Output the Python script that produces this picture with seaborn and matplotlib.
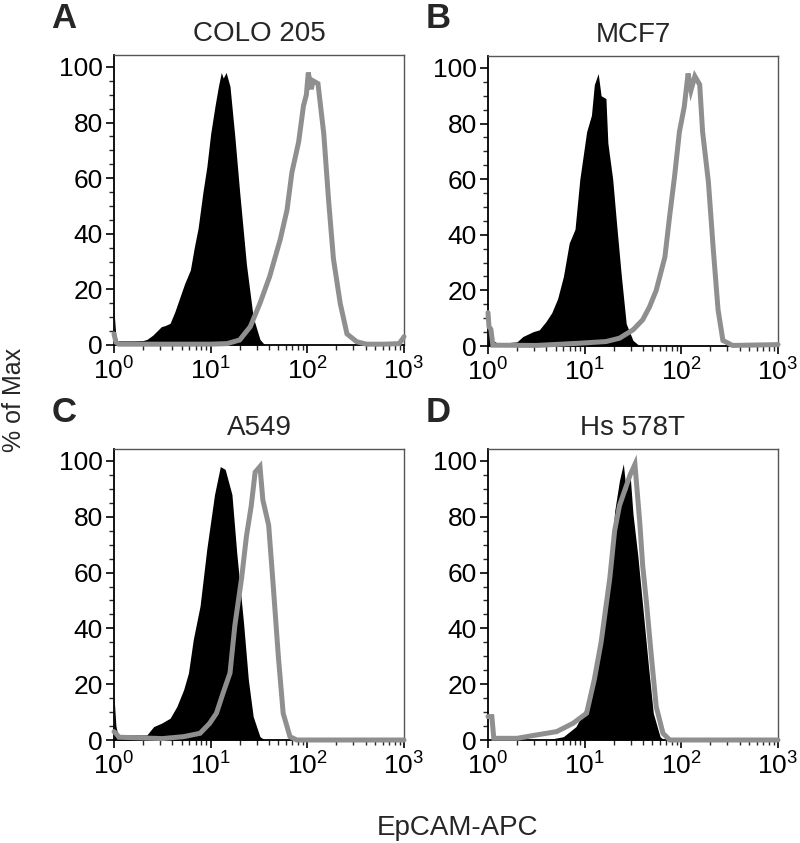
import numpy as np
import pandas as pd
import matplotlib
matplotlib.use("Agg")
import matplotlib.pyplot as plt
import seaborn as sns
from matplotlib.ticker import LogLocator, MultipleLocator

# ---------------- data (log10 intensity positions, % of max) ----------------
panel_letters = ["A", "B", "C", "D"]
cell_lines = ["COLO 205", "MCF7", "A549", "Hs 578T"]

a_iso_log = [0.0, 0.005, 0.02, 0.04, 0.1, 0.2, 0.3, 0.34, 0.40, 0.49, 0.53, 0.58, 0.63, 0.68, 0.73, 0.79,
             0.83, 0.87, 0.92, 0.96, 1.0, 1.045, 1.08, 1.11, 1.13, 1.16, 1.2, 1.25, 1.30, 1.37, 1.44, 1.51, 1.56]
a_iso_pct = [15, 10, 3, 1.5, 1.5, 1.5, 1.6, 2.0, 3.5, 6.6, 7.0, 7.8, 12, 17, 22, 27,
             35, 42, 55, 64, 76, 86, 93, 98, 96, 98, 93, 75, 55, 29, 10, 2, 0]
a_ep_log = [0.0, 0.02, 0.05, 0.5, 1.0, 1.17, 1.3, 1.41, 1.51, 1.61, 1.72, 1.79, 1.84, 1.91, 1.96, 1.99,
            2.01, 2.04, 2.06, 2.11, 2.17, 2.22, 2.27, 2.34, 2.41, 2.51, 2.61, 2.8, 2.95, 2.99, 3.0]
a_ep_pct = [4, 1, 0.3, 0.3, 0.3, 0.5, 1.8, 6.6, 15, 24.6, 38, 48.6, 62, 73, 86, 90,
            98, 92, 95, 94, 76, 52, 31, 15, 4, 1.2, 0.3, 0.3, 0.5, 2.4, 3]

b_iso_log = [0.0, 0.02, 0.05, 0.09, 0.2, 0.3, 0.36, 0.47, 0.53, 0.60, 0.66, 0.72, 0.78, 0.84, 0.90, 0.95,
             1.02, 1.07, 1.10, 1.14, 1.17, 1.22, 1.24, 1.29, 1.33, 1.38, 1.43, 1.5, 1.57]
b_iso_pct = [13, 7, 2, 1.2, 1.2, 1.5, 3.4, 5.2, 5.8, 8.8, 12, 17, 25, 37, 42, 60,
             77, 83, 94, 98, 90, 89, 73, 60, 44, 25, 8, 2, 0]
b_ep_log = [0.0, 0.01, 0.03, 0.05, 0.5, 0.95, 1.22, 1.36, 1.5, 1.60, 1.67, 1.74, 1.83, 1.88, 1.93, 1.98,
            2.03, 2.07, 2.10, 2.14, 2.19, 2.22, 2.28, 2.33, 2.38, 2.43, 2.53, 3.0]
b_ep_pct = [12, 7, 6, 0.3, 0.2, 1.0, 1.6, 2.8, 5.8, 9.4, 14, 20, 32, 47, 61, 77,
            86, 98, 92, 97, 94, 77, 59, 35, 13, 2, 0.2, 0.5]

c_iso_log = [0.0, 0.02, 0.04, 0.1, 0.34, 0.41, 0.49, 0.58, 0.65, 0.72, 0.77, 0.82, 0.89, 0.96, 1.04, 1.10,
             1.15, 1.22, 1.27, 1.34, 1.39, 1.44, 1.51, 1.56]
c_iso_pct = [15.6, 5, 1.8, 1.8, 1.8, 4.8, 6, 7.8, 12, 18, 24, 36, 48, 68.5, 88, 98,
             97, 88, 67, 42, 21.6, 8.4, 1.2, 0]
c_ep_log = [0.0, 0.02, 0.05, 0.5, 0.72, 0.89, 0.99, 1.06, 1.13, 1.2, 1.25, 1.32, 1.37, 1.42, 1.46, 1.51,
            1.54, 1.6, 1.65, 1.70, 1.75, 1.82, 1.89, 3.0]
c_ep_pct = [3, 2.4, 1, 0.5, 1.2, 2.4, 6, 9.6, 17, 24, 41, 58, 73, 84, 96, 98,
            86, 77, 54, 30, 9.6, 1.2, 0, 0]

d_iso_log = [0.0, 0.6, 0.78, 0.91, 1.02, 1.10, 1.19, 1.26, 1.31, 1.36, 1.40, 1.43, 1.47, 1.50, 1.55, 1.60,
             1.66, 1.71, 1.78, 1.82]
d_iso_pct = [0, 0, 1.2, 4.8, 12, 24, 38.5, 60, 82, 93, 99, 89, 95, 81, 66, 48,
             26.5, 9.6, 1.2, 0]
d_ep_log = [0.0, 0.015, 0.04, 0.06, 0.3, 0.5, 0.71, 0.88, 1.02, 1.10, 1.17, 1.26, 1.31, 1.36, 1.41, 1.47,
            1.52, 1.57, 1.60, 1.64, 1.69, 1.74, 1.81, 1.88, 3.0]
d_ep_pct = [8.4, 8.4, 8.4, 0.6, 0.6, 1.8, 3, 6, 9.6, 21.7, 35, 58, 75, 84, 89, 95,
            98.8, 78, 62.6, 49, 30, 12, 2.4, 0, 0]

y_ticks = [0, 20, 40, 60, 80, 100]
x_label = "EpCAM-APC"
y_label = "% of Max"

iso_series = [(a_iso_log, a_iso_pct), (b_iso_log, b_iso_pct), (c_iso_log, c_iso_pct), (d_iso_log, d_iso_pct)]
ep_series = [(a_ep_log, a_ep_pct), (b_ep_log, b_ep_pct), (c_ep_log, c_ep_pct), (d_ep_log, d_ep_pct)]

# ---------------- style ----------------
sns.set_style("ticks")
plt.rcParams["font.family"] = ["Liberation Sans", "DejaVu Sans"]
plt.rcParams["mathtext.fontset"] = "custom"
plt.rcParams["mathtext.rm"] = "Liberation Sans"
plt.rcParams["mathtext.it"] = "Liberation Sans"

W, H = 800, 843
fig = plt.figure(figsize=(W / 100, H / 100), dpi=100)

# axes pixel boxes: (left, top, right, bottom)
boxes = [(114, 55, 404, 345), (488, 56, 778, 346), (114, 449, 404, 740), (488, 449, 778, 740)]
gray = "#8f8f8f"

for i, (l, t, r, b) in enumerate(boxes):
    ax = fig.add_axes([l / W, 1 - b / H, (r - l) / W, (b - t) / H])
    xi = 10 ** np.array(iso_series[i][0])
    yi = np.array(iso_series[i][1])
    ax.fill_between(xi, 0, yi, color="black", lw=0, zorder=2)
    df = pd.DataFrame({"x": 10 ** np.array(ep_series[i][0]), "y": ep_series[i][1]})
    sns.lineplot(data=df, x="x", y="y", ax=ax, color=gray, lw=3.6, sort=False, zorder=3,
                 estimator=None)
    for line in ax.lines:
        line.set_clip_on(False)
        line.set_solid_joinstyle("miter")
    ax.set_xscale("log")
    ax.set_xlim(1, 1000)
    ax.set_ylim(0, 104.3)
    ax.set_yticks(y_ticks)
    ax.yaxis.set_minor_locator(MultipleLocator(5))
    ax.xaxis.set_major_locator(LogLocator(base=10, numticks=10))
    ax.xaxis.set_minor_locator(LogLocator(base=10, subs=np.arange(2, 10), numticks=20))
    ax.set_xlabel("")
    ax.set_ylabel("")
    ax.tick_params(axis="both", which="major", direction="out", length=6, width=1.2,
                   labelsize=19, pad=2, colors="black")
    ax.tick_params(axis="both", which="minor", direction="out", length=3.5, width=1.0)
    ax.tick_params(axis="x", which="major", pad=3)
    for side in ["left", "bottom"]:
        ax.spines[side].set_linewidth(1.3)
        ax.spines[side].set_color("black")
    for side in ["top", "right"]:
        ax.spines[side].set_visible(True)
        ax.spines[side].set_linewidth(1.0)
        ax.spines[side].set_color("#555555")
    ax.set_title(cell_lines[i], fontsize=20, pad=10)
    fig.text((l - 50) / W, 1 - (t - 37) / H, panel_letters[i], fontsize=25, fontweight="bold",
             ha="center", va="center")

fig.text(14 / W, 1 - 400 / H, y_label, rotation=90, fontsize=18, ha="center", va="center")
fig.text(458 / W, 1 - 828 / H, x_label, fontsize=20, ha="center", va="center")

fig.savefig("out.png", dpi=100, facecolor="white")
